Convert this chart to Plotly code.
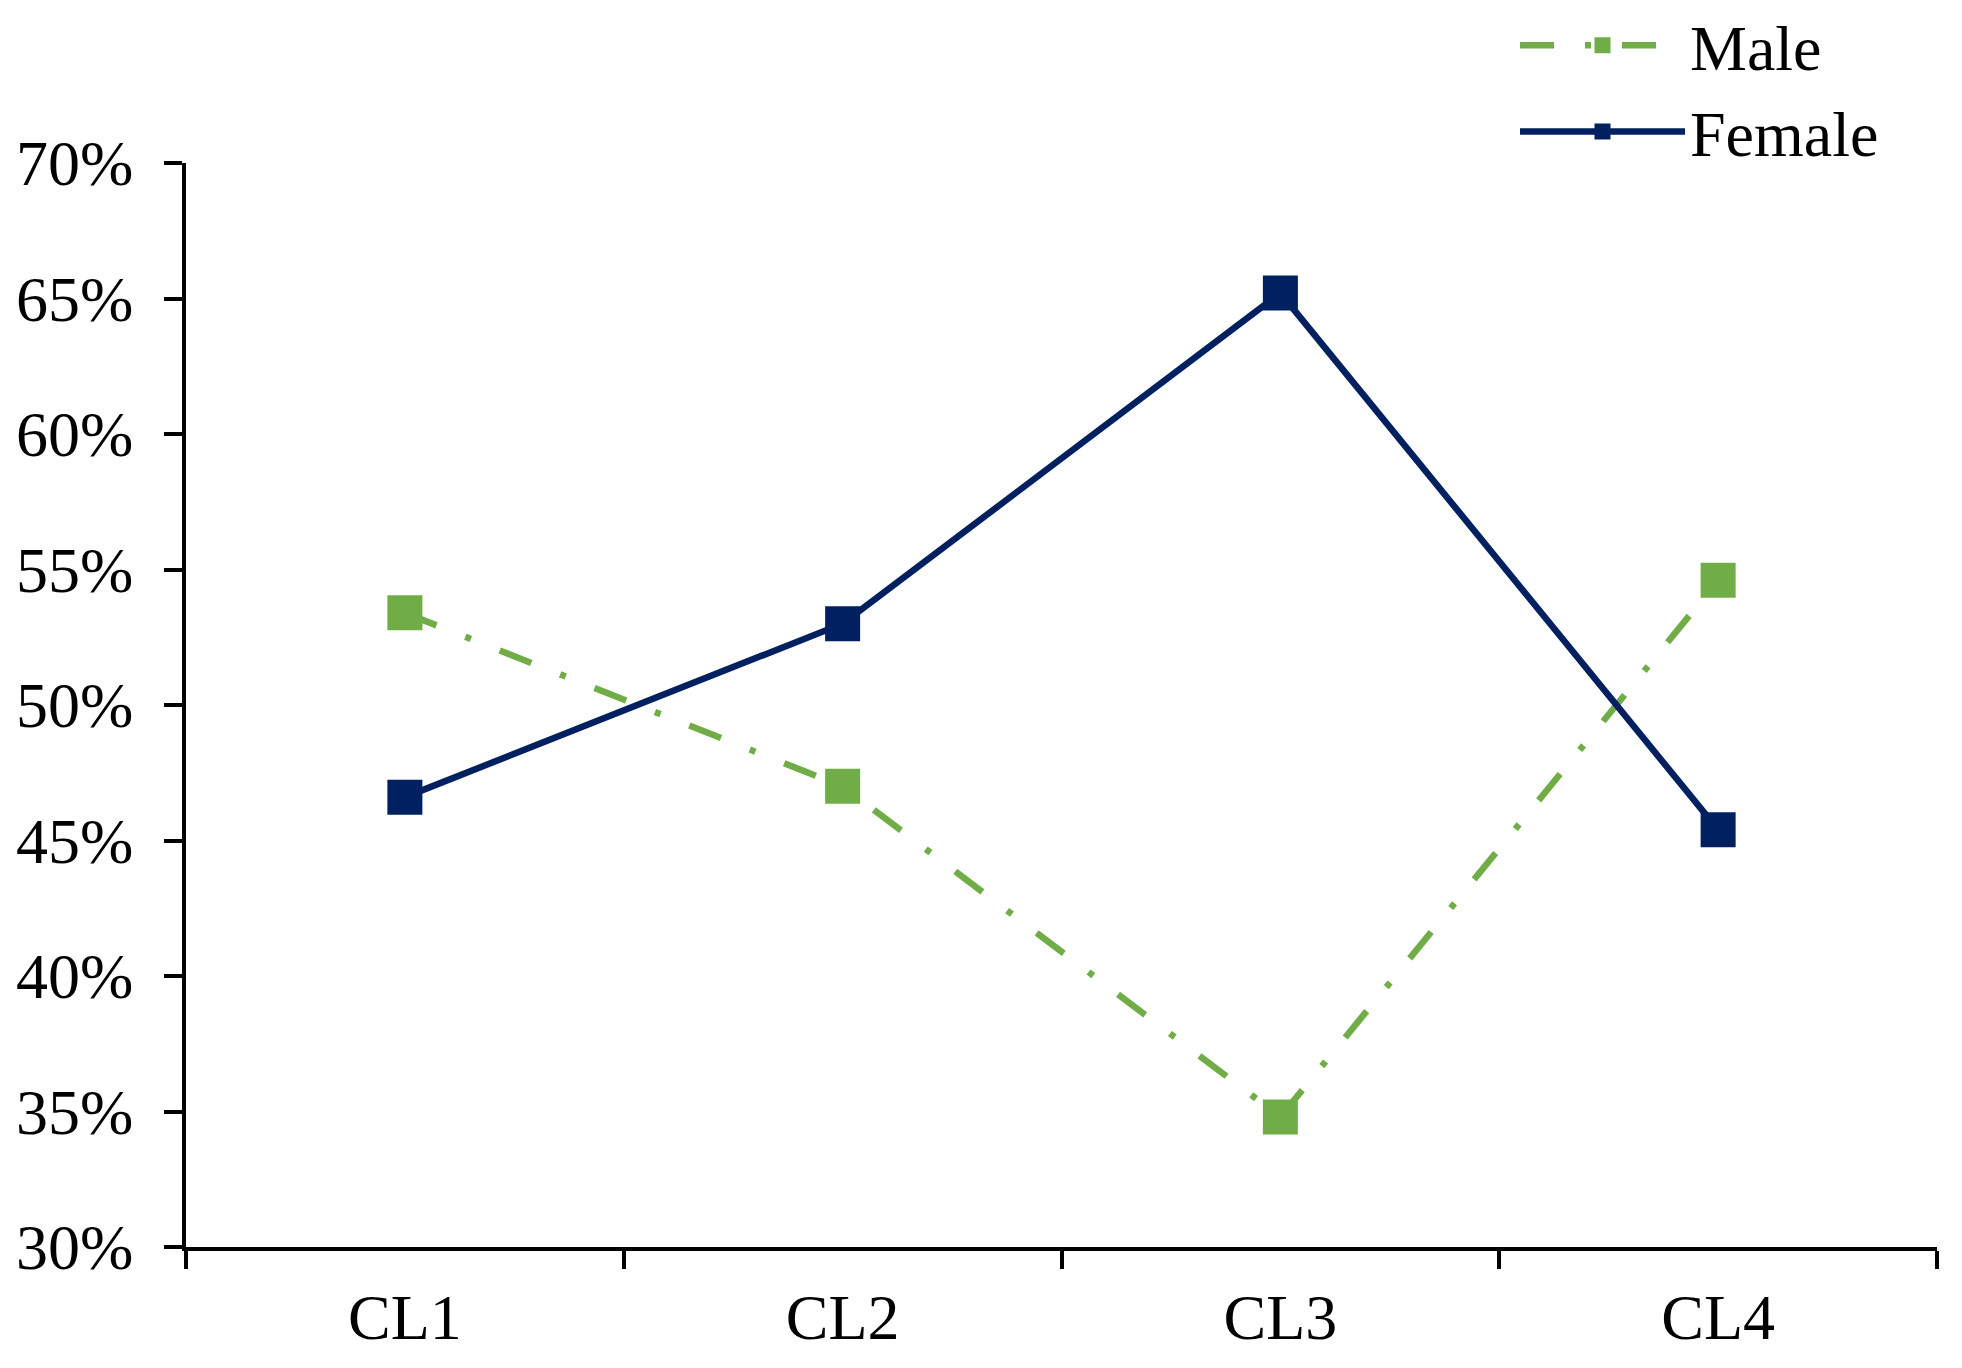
import plotly.graph_objects as go

# categories and series (share of each cluster, %)
clusters = ["CL1", "CL2", "CL3", "CL4"]
male = [53.4, 47.0, 34.8, 54.6]
female = [46.6, 53.0, 65.2, 45.4]
y_ticks = [30, 35, 40, 45, 50, 55, 60, 65, 70]
y_tick_labels = [f"{v}%" for v in y_ticks]

GREEN = "#70AD47"
NAVY = "#002060"
FONT = "Liberation Serif"


def grafico_genero(clusters, male, female):
    """Male / female share per cluster, two lines with square markers."""
    fig = go.Figure()

    # Male: dash-dot green line
    fig.add_trace(go.Scatter(
        x=clusters,
        y=male,
        mode="lines+markers",
        name="Male",
        line=dict(color=GREEN, width=6.5, dash="34px,31px,6px,31px"),
        marker=dict(symbol="square", size=35, color=GREEN),
    ))

    # Female: solid navy line
    fig.add_trace(go.Scatter(
        x=clusters,
        y=female,
        mode="lines+markers",
        name="Female",
        line=dict(color=NAVY, width=6.5),
        marker=dict(symbol="square", size=35, color=NAVY),
    ))

    # the page body adds an 8px margin, so the figure is 8px smaller
    fig.update_layout(
        width=1954,
        height=1360,
        margin=dict(l=178, r=25, t=155, b=121, autoexpand=False),
        plot_bgcolor="white",
        paper_bgcolor="white",
        font=dict(family=FONT, size=64, color="black"),
        showlegend=True,
        legend=dict(
            x=0.759, y=1.153, xanchor="left", yanchor="top",
            bgcolor="rgba(0,0,0,0)",
            itemwidth=165,
            tracegroupgap=0,
        ),
    )

    fig.update_xaxes(
        type="category",
        range=[-0.5, 3.5],
        ticklabelstandoff=11,
        showline=True, linecolor="black", linewidth=4,
        ticks="outside", tickson="boundaries", ticklen=18, tickwidth=4,
        tickcolor="black",
        showgrid=False, zeroline=False,
    )
    fig.update_yaxes(
        range=[30, 70],
        tickvals=y_ticks,
        ticktext=y_tick_labels,
        ticklabelstandoff=18,
        showline=True, linecolor="black", linewidth=4,
        ticks="outside", ticklen=18, tickwidth=4, tickcolor="black",
        showgrid=False, zeroline=False,
    )

    return fig


fig = grafico_genero(clusters, male, female)
fig.write_html("out.html")
